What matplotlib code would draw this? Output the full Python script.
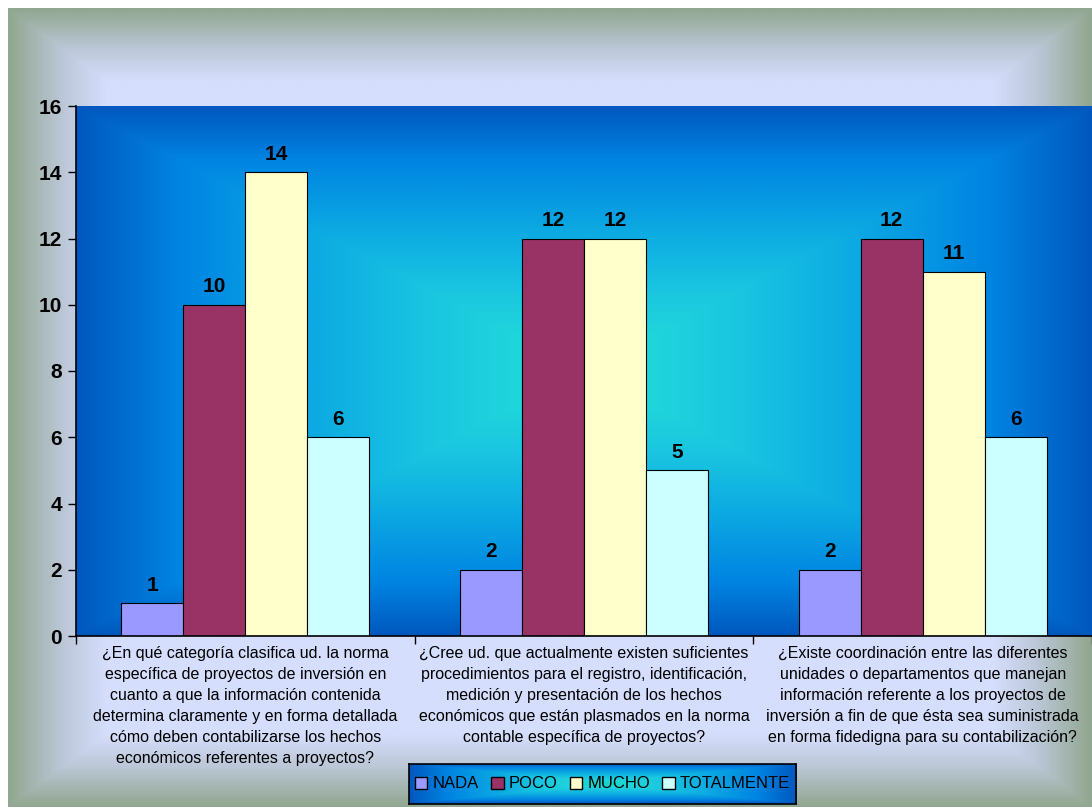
import numpy as np
import matplotlib.pyplot as plt
from matplotlib.colors import LinearSegmentedColormap
from matplotlib.patches import Patch

plt.rcParams['font.family'] = ['Liberation Sans', 'DejaVu Sans']

categories = [
    "¿En qué categoría clasifica ud. la norma\n"
    "específica de proyectos de inversión en\n"
    "cuanto a que la información contenida\n"
    "determina claramente y en forma detallada\n"
    "cómo deben contabilizarse los hechos\n"
    "económicos referentes a proyectos?",
    "¿Cree ud. que actualmente existen suficientes\n"
    "procedimientos para el registro, identificación,\n"
    "medición y presentación de los hechos\n"
    "económicos que están plasmados en la norma\n"
    "contable específica de proyectos?",
    "¿Existe coordinación entre las diferentes\n"
    "unidades o departamentos que manejan\n"
    "información referente a los proyectos de\n"
    "inversión a fin de que ésta sea suministrada\n"
    "en forma fidedigna para su contabilización?",
]
series = ['NADA', 'POCO', 'MUCHO', 'TOTALMENTE']
nada = [1, 2, 2]
poco = [10, 12, 12]
mucho = [14, 12, 11]
totalmente = [6, 5, 6]
values = [nada, poco, mucho, totalmente]
colors = ['#9999FF', '#993366', '#FFFFCC', '#CCFFFF']

W, H = 1092, 807


def rect_gradient(nx, ny):
    # 0 at the centre, 1 on the border, diagonal seams toward the corners
    u = np.linspace(-1, 1, nx)
    v = np.linspace(-1, 1, ny)
    U, V = np.meshgrid(u, v)
    return np.maximum(np.abs(U), np.abs(V))


frame_cmap = LinearSegmentedColormap.from_list(
    'frame', [(0, '#D5DEFC'), (0.82, '#D5DEFC'), (0.9, '#BCC8D8'), (1, '#92A791')])
blue_cmap = LinearSegmentedColormap.from_list(
    'blue', [(0, '#10D4C6'), (0.12, '#20D6DA'), (0.3, '#1AC6E0'),
             (0.5, '#0EAEE2'), (0.8, '#0084E2'), (1, '#0058BE')])

fig = plt.figure(figsize=(W / 100, H / 100), dpi=100)

# outer chart area
bg = fig.add_axes([8 / W, 0, 1 - 8 / W, 1 - 8 / H])
bg.imshow(rect_gradient(600, 450), cmap=frame_cmap, aspect='auto',
          extent=[0, 1, 0, 1], interpolation='bilinear')
bg.axis('off')

# plot area
ax = fig.add_axes([76 / W, 1 - 636 / H, (1092 - 76) / W, (636 - 106) / H])
ax.imshow(rect_gradient(500, 300), cmap=blue_cmap, aspect='auto',
          extent=[-0.5, 2.5, 0, 16], interpolation='bilinear', zorder=0)

x = np.arange(len(categories))
width = 0.183
for i, (name, vals, col) in enumerate(zip(series, values, colors)):
    bars = ax.bar(x + (i - 1.5) * width, vals, width, color=col,
                  edgecolor='black', linewidth=0.8, label=name, zorder=2)
    ax.bar_label(bars, padding=6, fontsize=15, fontweight='bold')

ax.set_xlim(-0.5, 2.5)
ax.set_ylim(0, 16)
ax.set_yticks(np.arange(0, 17, 2))
ax.tick_params(axis='y', length=6, width=1, pad=4, labelsize=15)
for lbl in ax.get_yticklabels():
    lbl.set_fontweight('bold')

ax.set_xticks([-0.5, 0.5, 1.5, 2.5])
ax.set_xticklabels([])
ax.tick_params(axis='x', which='major', length=6, width=1)
ax.set_xticks(x, minor=True)
ax.set_xticklabels(categories, minor=True, fontsize=11.5, linespacing=1.5)
ax.tick_params(axis='x', which='minor', length=0, pad=7)

for side in ['top', 'right']:
    ax.spines[side].set_visible(False)
for side in ['left', 'bottom']:
    ax.spines[side].set_linewidth(1.2)

# legend box
lax = fig.add_axes([409 / W, 1 - 804 / H, 387 / W, 40 / H])
lax.imshow(rect_gradient(300, 60), cmap=blue_cmap, aspect='auto',
           extent=[0, 1, 0, 1], interpolation='bilinear')
lax.set_xticks([])
lax.set_yticks([])
for sp in lax.spines.values():
    sp.set_linewidth(1.2)
handles = [Patch(facecolor=c, edgecolor='black', linewidth=1) for c in colors]
lax.legend(handles, series, loc='center', ncol=4, frameon=False, fontsize=12,
           handlelength=0.75, handleheight=0.75, handletextpad=0.3,
           columnspacing=0.74, borderaxespad=0)

fig.savefig('out.png', dpi=100)
